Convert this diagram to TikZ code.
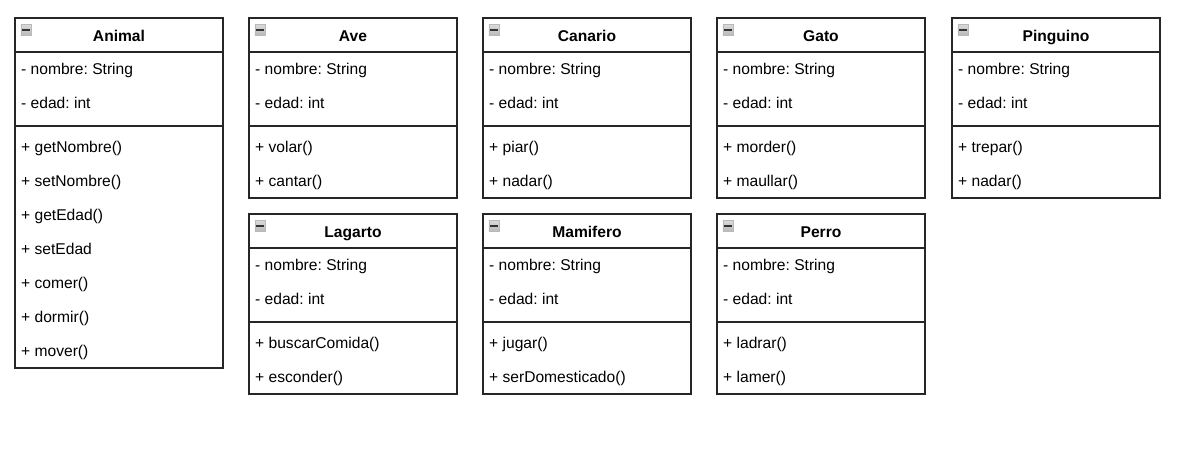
\documentclass[tikz,border=0pt]{standalone}
\usepackage{fontspec}
\setmainfont{Liberation Sans}
\frenchspacing
\tikzset{
  box/.style={draw=black!85, line width=1.3pt, anchor=north west, minimum width=208pt, inner sep=0pt, outer sep=0pt, fill=white},
  ttl/.style={font=\bfseries\fontsize{15.6}{18}\selectfont, anchor=base, inner sep=0pt},
  mem/.style={font=\fontsize{15.6}{18}\selectfont, anchor=base west, inner sep=0pt},
  sepline/.style={draw=black!85, line width=1.3pt},
  icon/.style={draw=gray!55, top color=gray!30, bottom color=gray!55, line width=0.8pt, minimum size=10.5pt, inner sep=0pt, anchor=north west},
  iconbar/.style={draw=black!80, line width=1.6pt}
}
\newcommand\umlclass[7]{%
  \node[box, minimum height=#4pt] (#1) at (#2pt,-#3pt) {};
  \node[ttl] (#1-t) at ([yshift=-23.5pt]#1.north) {#5};
  \node[icon] (#1-i) at ([xshift=5.5pt,yshift=-6.5pt]#1.north west) {};
  \draw[iconbar] ([xshift=1.8pt]#1-i.west) -- ([xshift=-1.8pt]#1-i.east);
  \draw[sepline] ([yshift=-34pt]#1.north west) -- ([yshift=-34pt]#1.north east);
  \foreach \a [count=\i] in {#6}
    \node[mem] (#1-a\i) at ([xshift=6pt,yshift={-(56.5+34*(\i-1))*1pt}]#1.north west) {\a};
  \draw[sepline] ([yshift=-108pt]#1.north west) -- ([yshift=-108pt]#1.north east);
  \foreach \m [count=\i] in {#7}
    \node[mem] (#1-m\i) at ([xshift=6pt,yshift={-(134.5+34*(\i-1))*1pt}]#1.north west) {\m};
}
\begin{document}
\begin{tikzpicture}
\useasboundingbox (0,0) rectangle (1192pt,-457pt);
\umlclass{animal}{15}{18}{350}{Animal}{- nombre: String, - edad: int}{+ getNombre(), + setNombre(), + getEdad(), + setEdad, + comer(), + dormir(), + mover()}
\umlclass{ave}{249}{18}{180}{Ave}{- nombre: String, - edad: int}{+ volar(), + cantar()}
\umlclass{canario}{483}{18}{180}{Canario}{- nombre: String, - edad: int}{+ piar(), + nadar()}
\umlclass{gato}{717}{18}{180}{Gato}{- nombre: String, - edad: int}{+ morder(), + maullar()}
\umlclass{pinguino}{952}{18}{180}{Pinguino}{- nombre: String, - edad: int}{+ trepar(), + nadar()}
\umlclass{lagarto}{249}{214}{180}{Lagarto}{- nombre: String, - edad: int}{+ buscarComida(), + esconder()}
\umlclass{mamifero}{483}{214}{180}{Mamifero}{- nombre: String, - edad: int}{+ jugar(), + serDomesticado()}
\umlclass{perro}{717}{214}{180}{Perro}{- nombre: String, - edad: int}{+ ladrar(), + lamer()}
\end{tikzpicture}
\end{document}
